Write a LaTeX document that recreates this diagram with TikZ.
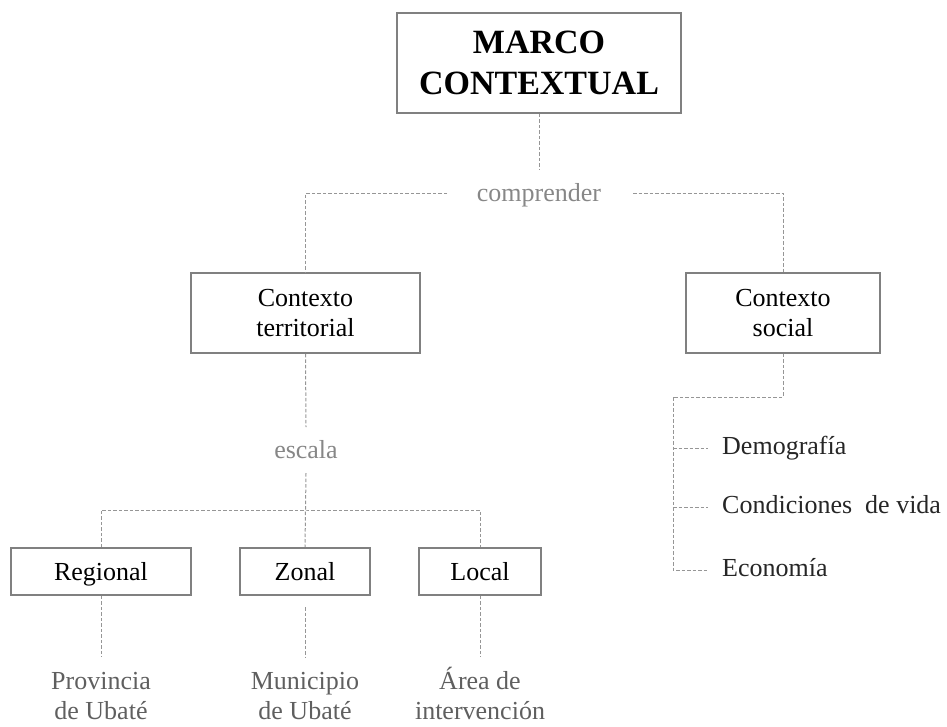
\documentclass[tikz,border=0pt]{standalone}
\usepackage{fontspec}
\setmainfont{Liberation Serif}
\definecolor{boxgray}{RGB}{128,128,128}
\definecolor{linegray}{RGB}{150,150,150}
\definecolor{labelgray}{RGB}{135,135,135}
\definecolor{leafgray}{RGB}{95,95,95}
\tikzset{
    caja/.style={draw=boxgray, line width=1.6pt, fill=white, align=center,
        font=\fontsize{26}{30}\selectfont},
    cajita/.style={caja, minimum height=47pt, text height=21pt, text depth=3pt},
    conn/.style={draw=linegray, line width=1pt, dash pattern=on 3.5pt off 2pt},
    etiqueta/.style={text=labelgray, font=\fontsize{26}{30}\selectfont},
    hoja/.style={text=leafgray, align=center, font=\fontsize{26}{30}\selectfont},
    item/.style={anchor=west, inner sep=0pt, text height=18pt, text depth=6pt,
        text=black!85, font=\fontsize{26}{30}\selectfont}
}
\begin{document}
\begin{tikzpicture}[x=1pt, y=-1pt]
                \useasboundingbox (0,0) rectangle (947,726);
                
                \node[caja, minimum width=284pt, minimum height=100pt,
                    font=\fontsize{34}{41}\selectfont\bfseries] (marco) at (539,63) {MARCO\\CONTEXTUAL};
                \node[etiqueta] (comprender) at (539,195) {comprender};
                
                \node[caja, minimum width=229pt, minimum height=80pt] (territorial) at (305.5,313) {Contexto\\territorial};
                \node[caja, minimum width=194pt, minimum height=80pt] (social) at (783,313) {Contexto\\social};
                
                \node[etiqueta] (escala) at (306,450) {escala};
                
                \node[cajita, minimum width=180pt] (regional) at (101,571.5) {Regional};
                \node[cajita, minimum width=130pt] (zonal) at (305,571.5) {Zonal};
                \node[cajita, minimum width=122pt] (local) at (480,571.5) {Local};
                
                \node[hoja] (provincia) at (101,696) {Provincia\\de Ubaté};
                \node[hoja] (municipio) at (305,696) {Municipio\\de Ubaté};
                \node[hoja] (area) at (480,693) {Área de\\intervención};
                
                \node[item] (demografia) at (722,448) {Demografía};
                \node[item] (condiciones) at (722,507) {Condiciones\ \ de vida};
                \node[item] (economia) at (722,570) {Economía};
                
                % puntos libres de los conectores
                \coordinate (c1) at (539,170);
                \coordinate (hl) at (447,193);
                \coordinate (hr) at (633,193);
                \coordinate (e1) at (306,427);
                \coordinate (e2) at (306,473);
                \coordinate (bar) at (306,510);
                \coordinate (s1) at (673,397);
                \coordinate (p1) at (101,657);
                \coordinate (z0) at (305,607);
                \coordinate (z1) at (305,657);
                \coordinate (l1) at (480,657);
                
                \draw[conn] (marco.south) -- (c1);
                \draw[conn] (hl) -| (territorial.north);
                \draw[conn] (hr) -| (social.north);
                
                \draw[conn] (territorial.south) -- (e1);
                \draw[conn] (e2) -- (zonal.north);
                \draw[conn] (regional.north) |- (bar) -| (local.north);
                
                \draw[conn] (regional.south) -- (p1);
                \draw[conn] (z0) -- (z1);
                \draw[conn] (local.south) -- (l1);
                
                \draw[conn] (social.south) |- (s1);
                \draw[conn, shorten >=14pt] (s1) |- (economia.west);
                \draw[conn, shorten >=14pt] (s1 |- demografia) -- (demografia.west);
                \draw[conn, shorten >=14pt] (s1 |- condiciones) -- (condiciones.west);
            \end{tikzpicture}
\end{document}
